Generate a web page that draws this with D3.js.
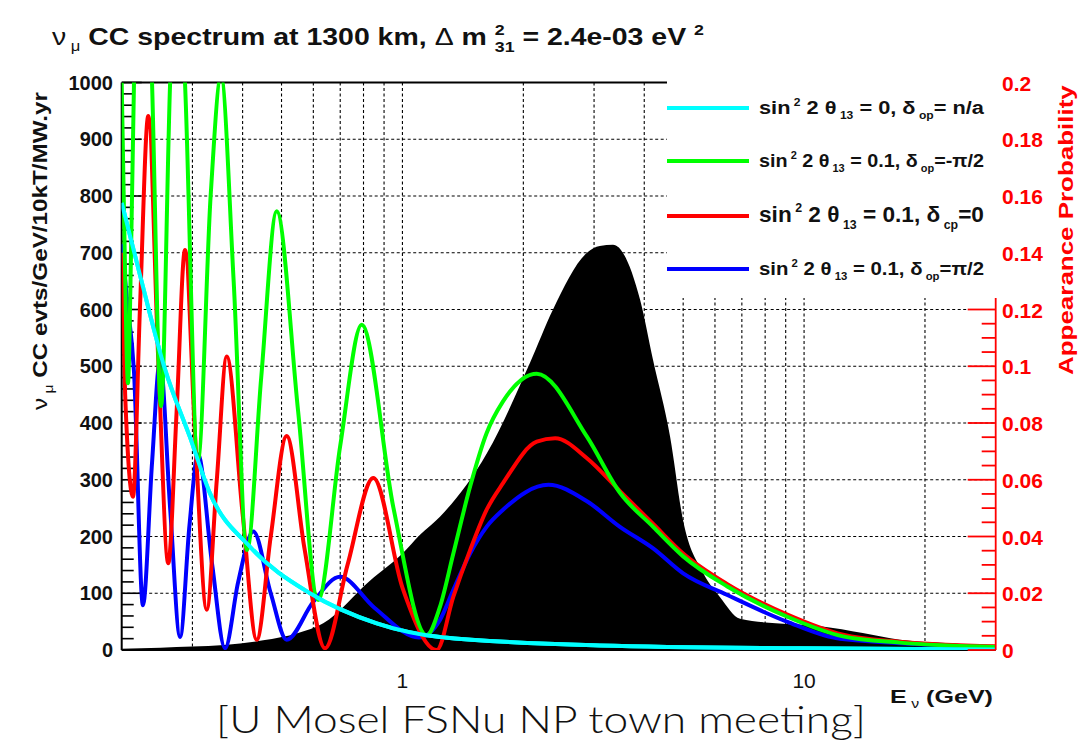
<!DOCTYPE html>
<html><head><meta charset="utf-8">
<script src="https://cdn.jsdelivr.net/npm/d3@7"></script>
<style>body{margin:0;background:#fff} svg{display:block} text{white-space:pre}</style>
</head><body><svg id="c" width="1081" height="744"></svg>
<script>
// ---------------- data ----------------
const energyDomain = [0.2, 30];          // GeV
const eventDomain = [0, 1000];            // events / GeV / 10kT / MW.yr
const probDomain = [0, 0.2];              // appearance probability
const eventTicks = [0,100,200,300,400,500,600,700,800,900,1000];
const probTicks = [0,0.02,0.04,0.06,0.08,0.1,0.12,0.14,0.16,0.18,0.2];
const xTickLabels = [1, 10];
const gridEnergies = [0.3,0.4,0.5,0.6,0.7,0.8,0.9,1,2,3,4,5,6,7,8,9,10,20];

// nu_mu CC spectrum (black histogram)
const spectrumE = [0.2,0.25,0.3,0.36,0.45,0.55,0.635,0.83,1.0,1.106,1.24,1.624,2.078,2.371,2.881,3.1,3.344,3.906,4.207,4.638,4.996,5.604,6.178,6.928,8.5,11,14,17.3,23,30];
const spectrumEvents = [2,4,6,9,17,30,47,122,170,203,235,347,506,600,700,712,714,617,511,376,229,136,93,55,47,42,30,18,12,7];

// appearance probability, sin^2 2th13 = 0
const cyanE = [0.2,0.2259,0.2563,0.2958,0.3318,0.4173,0.5886,0.863,1.24,3.1,9.8,30];
const cyanP = [0.1576,0.128,0.099,0.075,0.0552,0.0364,0.02,0.0094,0.0046,0.0016,0.0006,0.0002];

// sin^2 2th13 = 0.1, dcp = -pi/2
const greenE = [0.2,0.2035,0.2073,0.211,0.2146,0.2259,0.238,0.2506,0.264,0.2747,0.2875,0.3097,0.333,0.3534,0.38,0.4102,0.445,0.4864,0.55,0.6164,0.7,0.7917,0.95,1.149,1.24,1.339,1.474,1.62,1.78,2.16,2.88,3.48,4.21,5.0,6.44,9.06,12.5,17.3,30];
const greenP = [0.2,0.14,0.094,0.14,0.2,0.3,0.2,0.086,0.2,0.256,0.2,0.067,0.16,0.202,0.13,0.0352,0.096,0.1546,0.084,0.0176,0.072,0.1146,0.05,0.0052,0.0152,0.034,0.0576,0.0764,0.0876,0.0974,0.0752,0.0554,0.0434,0.033,0.0224,0.0118,0.0048,0.0026,0.0011];

// sin^2 2th13 = 0.1, dcp = 0
const redE = [0.2,0.204,0.2134,0.222,0.2329,0.247,0.2612,0.274,0.2875,0.305,0.3256,0.345,0.3652,0.4,0.4337,0.47,0.515,0.57,0.6416,0.73,0.8463,1.0,1.217,1.339,1.474,1.62,1.78,2.16,2.4,2.88,3.48,4.21,5.0,6.44,9.06,12.5,17.3,30];
const redP = [0.14,0.09,0.054,0.12,0.1882,0.1,0.0306,0.084,0.141,0.074,0.0142,0.06,0.1034,0.048,0.0036,0.04,0.0754,0.036,0.0006,0.03,0.0606,0.022,0.0,0.0188,0.0352,0.0494,0.0588,0.0734,0.0746,0.0676,0.056,0.0444,0.034,0.0232,0.0126,0.0054,0.0029,0.0013];

// sin^2 2th13 = 0.1, dcp = +pi/2
const blueE = [0.2,0.206,0.2146,0.2259,0.238,0.2491,0.264,0.2795,0.295,0.3097,0.336,0.3616,0.39,0.4253,0.47,0.515,0.6,0.6993,0.85,1.1,1.24,1.339,1.474,1.62,1.78,2.31,2.88,3.48,4.21,5.0,6.44,9.06,12.0,17.3,30];
const blueP = [0.143,0.124,0.098,0.0158,0.066,0.102,0.05,0.0046,0.044,0.069,0.03,0.0006,0.024,0.0418,0.02,0.0036,0.017,0.0258,0.015,0.0044,0.0106,0.0212,0.034,0.0434,0.0494,0.0582,0.0524,0.0434,0.0358,0.027,0.0194,0.01,0.0042,0.0024,0.001];

const legendLabels = [
  {color:"#00ffff", th:" = 0, δ", sub:" op", tail:"= n/a"},
  {color:"#00ff00", th:" = 0.1, δ", sub:" op", tail:"=-π/2"},
  {color:"#ff0000", th:" = 0.1, δ", sub:" cp", tail:"=0", big:true},
  {color:"#0000ff", th:" = 0.1, δ", sub:" op", tail:"=π/2"}
];

// ---------------- layout ----------------
const svg = d3.select("#c");
const L = 121.7, R = 995.7, T = 82.5, B = 650;
const x = d3.scaleLog().domain(energyDomain).range([L, R]);
const y = d3.scaleLinear().domain(eventDomain).range([B, T]);
const yp = d3.scaleLinear().domain(probDomain).range([B, T]);
const FONT = "'Liberation Sans', Arial, sans-serif";

svg.append("defs").append("clipPath").attr("id","plot")
  .append("rect").attr("x",L).attr("y",T).attr("width",R-L).attr("height",B-T);

// grid
const grid = svg.append("g").attr("stroke","#000").attr("stroke-width",1.1).attr("stroke-dasharray","3,2.5");
eventTicks.filter(v=>v>0 && v<1000).forEach(v=>{
  grid.append("line").attr("x1",L).attr("x2",R).attr("y1",y(v)).attr("y2",y(v));
});
gridEnergies.forEach(e=>{
  grid.append("line").attr("x1",x(e)).attr("x2",x(e)).attr("y1",T).attr("y2",B);
});

// spectrum area
const spec = spectrumE.map((e,i)=>[e,spectrumEvents[i]]);
svg.append("path").datum(spec).attr("clip-path","url(#plot)")
  .attr("fill","#000")
  .attr("d", d3.area().x(d=>x(d[0])).y0(B).y1(d=>y(d[1])).curve(d3.curveMonotoneX));

// frame and left axis
const frame = svg.append("g").attr("stroke","#000").attr("stroke-width",2);
frame.append("line").attr("x1",L).attr("x2",R).attr("y1",T).attr("y2",T);
frame.append("line").attr("x1",L).attr("x2",R).attr("y1",B).attr("y2",B);
frame.append("line").attr("x1",L).attr("x2",L).attr("y1",T).attr("y2",B);
const lt = svg.append("g").attr("stroke","#000").attr("stroke-width",1.6);
d3.range(0,1001,20).forEach(v=>{
  const major = v%100===0;
  lt.append("line").attr("x1",L).attr("x2",L+(major?20:12)).attr("y1",y(v)).attr("y2",y(v));
});
svg.append("g").selectAll("text").data(eventTicks).join("text")
  .attr("x",113).attr("y",v=>y(v)+7).attr("text-anchor","end")
  .attr("font-family",FONT).attr("font-weight","bold").attr("font-size",20)
  .attr("fill","#111").text(v=>v);

// x tick labels
svg.append("g").selectAll("text").data(xTickLabels).join("text")
  .attr("x",e=>x(e)).attr("y",688).attr("text-anchor","middle")
  .attr("font-family",FONT).attr("font-size",21).attr("fill","#111").text(e=>e);

// curves
const curves = svg.append("g").attr("clip-path","url(#plot)").attr("fill","none")
  .attr("stroke-width",4).attr("stroke-linejoin","round");
const line = d3.line().x(d=>x(d[0])).y(d=>yp(d[1])).curve(d3.curveMonotoneX);
[[cyanE,cyanP,"#00ffff"],[blueE,blueP,"#0000ff"],[redE,redP,"#ff0000"],[greenE,greenP,"#00ff00"]].forEach(([E,P,c])=>{
  curves.append("path").datum(E.map((e,i)=>[e,P[i]])).attr("stroke",c).attr("d",line);
});
// cyan on top
curves.append("path").datum(cyanE.map((e,i)=>[e,cyanP[i]])).attr("stroke","#00ffff").attr("d",line);

// right axis (red)
const ra = svg.append("g").attr("stroke","#ff0000").attr("stroke-width",1.8);
ra.append("line").attr("x1",R).attr("x2",R).attr("y1",T).attr("y2",B);
d3.range(0,0.2001,0.005).forEach(p=>{
  const major = Math.abs(p/0.02 - Math.round(p/0.02))<1e-6;
  ra.append("line").attr("x1",R).attr("x2",R-(major?28:14)).attr("y1",yp(p)).attr("y2",yp(p));
});

// legend box
svg.append("rect").attr("x",667).attr("y",70).attr("width",333).attr("height",228).attr("fill","#fff");

svg.append("g").selectAll("text").data(probTicks).join("text")
  .attr("x",1002).attr("y",p=>yp(p)+8).attr("text-anchor","start")
  .attr("font-family",FONT).attr("font-weight","bold").attr("font-size",21)
  .attr("fill","#ff0000").text(p=>p);

// rich text helper
function rich(g, parts, base, weight){
  let cx = 0;
  parts.forEach(p=>{
    const t = g.append("text").attr("x",cx).attr("y",p.dy||0)
      .attr("font-family",p.family||FONT).attr("font-size",p.size||base)
      .attr("font-weight",p.w||weight).attr("fill",p.fill||"#111")
      .attr("xml:space","preserve").style("white-space","pre").text(p.t);
    const w = t.node().getComputedTextLength();
    if(!p.stack) cx += w + (p.gap||0);
  });
  return cx;
}
function fitted(parent, x0, y0, parts, base, weight, targetW, anchor, rot){
  const outer = parent.append("g");
  const inner = outer.append("g");
  const w = rich(inner, parts, base, weight);
  const s = targetW / w;
  const off = anchor==="middle" ? -targetW/2 : 0;
  outer.attr("transform", `translate(${x0},${y0})` + (rot?` rotate(${rot})`:""));
  inner.attr("transform", `translate(${off},0) scale(${s},1)`);
}

// legend entries
const legYs = [108,161,216,269];
legendLabels.forEach((d,i)=>{
  const ly = legYs[i];
  svg.append("line").attr("x1",667).attr("x2",749).attr("y1",ly).attr("y2",ly)
    .attr("stroke",d.color).attr("stroke-width",4);
  const b = d.big ? 22 : 18;
  const sm = d.big ? 12 : 10;
  fitted(svg, 759, ly+6, [
    {t:"sin"},{t:" 2",size:sm,dy:-b*0.45},{t:" 2 θ"},{t:" 13",size:sm,dy:b*0.3},
    {t:d.th},{t:d.sub,size:sm,dy:b*0.3},{t:d.tail}
  ], b, "bold", 225);
});

// title
fitted(svg, 52, 45, [
  {t:"ν",w:"normal"},{t:" μ",size:14,dy:6,w:"normal"},{t:" CC spectrum at 1300 km, "},
  {t:"Δ",w:"normal"},{t:" m "},{t:"2",size:15,dy:-10,stack:true},{t:"31",size:15,dy:7},
  {t:" = 2.4e-03 eV "},{t:"2",size:15,dy:-10}
], 24, "bold", 652);

// y-axis title
fitted(svg, 47, 251, [
  {t:"ν",w:"normal"},{t:" μ",size:13,dy:6,w:"normal"},{t:" CC evts/GeV/10kT/MW.yr"}
], 20, "bold", 318, "middle", -90);

// right axis title
fitted(svg, 1073, 230, [{t:"Appearance Probability",fill:"#ff0000"}], 20, "bold", 290, "middle", -90);

// x-axis title
fitted(svg, 890, 703, [
  {t:"E"},{t:" ν",size:12,dy:5,w:"normal"},{t:" (GeV)"}
], 19, "bold", 103);

// caption
svg.append("text").attr("x",541).attr("y",733).attr("text-anchor","middle")
  .attr("font-family","Lato, 'Open Sans', sans-serif").attr("font-weight",300)
  .attr("font-size",38).attr("fill","#111")
  .attr("textLength",650).attr("lengthAdjust","spacingAndGlyphs")
  .text("[U Mosel FSNu NP town meeting]");
</script></body></html>
